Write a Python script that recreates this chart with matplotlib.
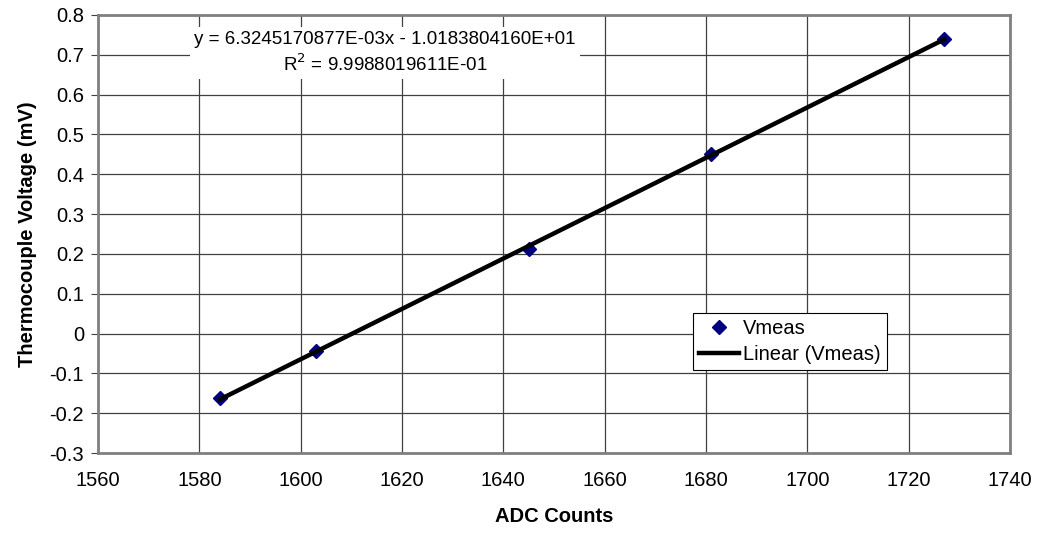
import matplotlib
matplotlib.use("Agg")
import matplotlib.pyplot as plt
import numpy as np

plt.rcParams["font.family"] = ["Liberation Sans", "DejaVu Sans"]

# measured points
adc_counts = [1584, 1603, 1645, 1681, 1727]
vmeas = [-0.163, -0.045, 0.212, 0.451, 0.739]

# trendline coefficients (from the chart label)
slope = 6.3245170877e-03
intercept = -1.0183804160e+01

fig = plt.figure(figsize=(10.4, 5.35), dpi=100)
ax = fig.add_axes([98/1040, 1 - 453/535, (1010 - 98)/1040, (453 - 15)/535])

xfit = np.array([min(adc_counts), max(adc_counts)])
ax.plot(adc_counts, vmeas, linestyle="none", marker="D", markersize=7.5,
        color="#000080", label="Vmeas", zorder=3)
ax.plot(xfit, slope * xfit + intercept, color="black", linewidth=3.2,
        label="Linear (Vmeas)", zorder=4)

yt = np.round(np.arange(-0.3, 0.81, 0.1), 1)
ax.set_xlim(1560, 1740)
ax.set_ylim(-0.3, 0.8)
ax.set_xticks(np.arange(1560, 1741, 20))
ax.set_yticks(yt)
ax.set_yticklabels([f"{v:g}" for v in yt])
ax.grid(True, color="#404040", linewidth=0.9)
ax.set_axisbelow(True)
for s in ax.spines.values():
    s.set_color("#808080")
    s.set_linewidth(2)
ax.tick_params(axis="both", labelsize=14.5, length=5, color="#404040")
ax.tick_params(axis="y", pad=5)
ax.tick_params(axis="x", length=0, pad=13)

ax.set_xlabel("ADC Counts", fontsize=14.5, fontweight="bold", labelpad=12)
ax.set_ylabel("Thermocouple Voltage (mV)", fontsize=14.5, fontweight="bold", labelpad=9)

ax.text(0.3145, 0.913,
        "y = 6.3245170877E-03x - 1.0183804160E+01\nR$^2$ = 9.9988019611E-01",
        transform=ax.transAxes, ha="center", va="center", fontsize=13.5,
        linespacing=1.3, zorder=5,
        bbox=dict(facecolor="white", edgecolor="none", pad=3))

leg = fig.legend(loc="upper left", bbox_to_anchor=(693/1040, 1 - 313/535),
                 fontsize=14.5, frameon=True, fancybox=False, edgecolor="black",
                 framealpha=1, handlelength=2.0, handletextpad=0.2,
                 borderpad=0.3, labelspacing=0.35, borderaxespad=0)
leg.get_frame().set_linewidth(0.8)

fig.savefig("out.png", dpi=100)
